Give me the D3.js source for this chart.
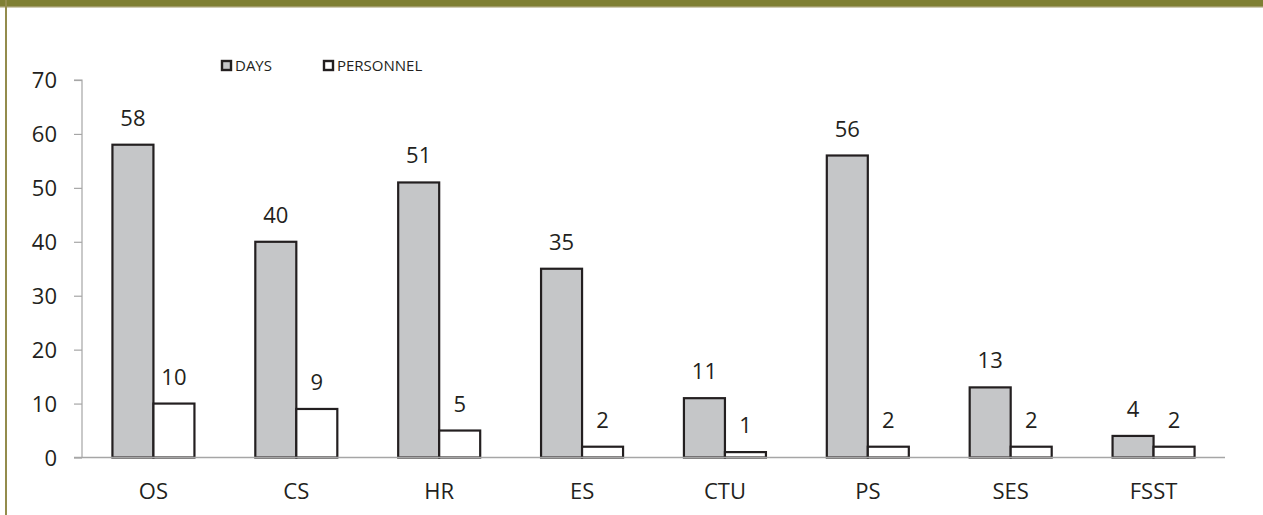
<!DOCTYPE html>
<html>
<head>
<meta charset="utf-8">
<script src="https://cdn.jsdelivr.net/npm/d3@7/dist/d3.min.js"></script>
<style>
  html, body { margin: 0; padding: 0; background: #fff; }
  svg { display: block; font-family: "Open Sans", sans-serif; }
</style>
</head>
<body>
<svg id="chart" width="1263" height="515"></svg>
<script>
// Units and the two measured series
const categories = ["OS", "CS", "HR", "ES", "CTU", "PS", "SES", "FSST"];
const days       = [58, 40, 51, 35, 11, 56, 13, 4];
const personnel  = [10, 9, 5, 2, 1, 2, 2, 2];
const seriesNames = ["DAYS", "PERSONNEL"];
const yTicks = [0, 10, 20, 30, 40, 50, 60, 70];

const W = 1263, H = 515;
const margin = { left: 82, right: 38, top: 80, bottom: 57 };
const ink = "#231f20";
const fills = ["#c5c6c8", "#ffffff"];

const svg = d3.select("#chart");

// Frame: olive banner across the top and a rule down the left side
svg.append("rect").attr("x", 0).attr("y", 0).attr("width", W).attr("height", 7).attr("fill", "#7f7f33");
svg.append("rect").attr("x", 0).attr("y", 6).attr("width", W).attr("height", 1.5).attr("fill", "#a09a66");
svg.append("rect").attr("x", 5).attr("y", 0).attr("width", 2).attr("height", H).attr("fill", "#938c4c");

const x0 = d3.scaleBand().domain(categories)
  .range([margin.left, W - margin.right]).paddingInner(0.426).paddingOuter(0.213);
const x1 = d3.scaleBand().domain(seriesNames).range([0, x0.bandwidth()]);
const y = d3.scaleLinear().domain([0, 70]).range([H - margin.bottom - 0.5, margin.top]);

// Y axis
const yAxis = svg.append("g").attr("transform", `translate(${margin.left},0)`)
  .call(d3.axisLeft(y).tickValues(yTicks).tickSize(8).tickPadding(17).tickFormat(d3.format("d")));
yAxis.select(".domain").attr("stroke", "#a6a6a6").attr("stroke-width", 1.2).attr("d", `M-8,${y(70)}H0V${y(0)}`);
yAxis.selectAll(".tick line").attr("stroke", "#a6a6a6").attr("stroke-width", 1.2);
yAxis.selectAll(".tick text").attr("fill", ink).attr("font-size", 22).attr("dy", "0.36em")
  .attr("font-family", "'Open Sans', sans-serif");

// Bars
const groups = svg.append("g").selectAll("g").data(categories).join("g")
  .attr("transform", d => `translate(${x0(d)},0)`);

const series = [days, personnel];
groups.each(function (cat, i) {
  const g = d3.select(this);
  seriesNames.forEach((s, k) => {
    const v = series[k][i];
    g.append("rect")
      .attr("x", x1(s)).attr("y", y(v))
      .attr("width", x1.bandwidth()).attr("height", y(0) - y(v))
      .attr("fill", fills[k]).attr("stroke", ink).attr("stroke-width", 2.2);
    g.append("text")
      .attr("x", x1(s) + x1.bandwidth() / 2).attr("y", y(v) - 19)
      .attr("text-anchor", "middle").attr("fill", ink).attr("font-size", 22)
      .text(v);
  });
});

// X axis baseline and category labels
const xAxis = svg.append("g").attr("transform", `translate(0,${y(0)})`)
  .call(d3.axisBottom(x0).tickSize(0).tickPadding(26));
xAxis.select(".domain").attr("stroke", "#a6a6a6").attr("stroke-width", 1.6)
  .attr("d", `M${margin.left - 8},0H${W - margin.right}`);
xAxis.selectAll(".tick text").attr("fill", ink).attr("font-size", 22)
  .attr("font-family", "'Open Sans', sans-serif");
xAxis.raise();
groups.raise();

// Legend
const legend = svg.append("g");
const legendX = [221, 323];
seriesNames.forEach((s, k) => {
  legend.append("rect").attr("x", legendX[k] + 1).attr("y", 61)
    .attr("width", 9).attr("height", 9)
    .attr("fill", fills[k]).attr("stroke", ink).attr("stroke-width", 2.4);
  legend.append("text").attr("x", legendX[k] + 14).attr("y", 71)
    .attr("fill", ink).attr("font-size", 15).text(s);
});
</script>
</body>
</html>
